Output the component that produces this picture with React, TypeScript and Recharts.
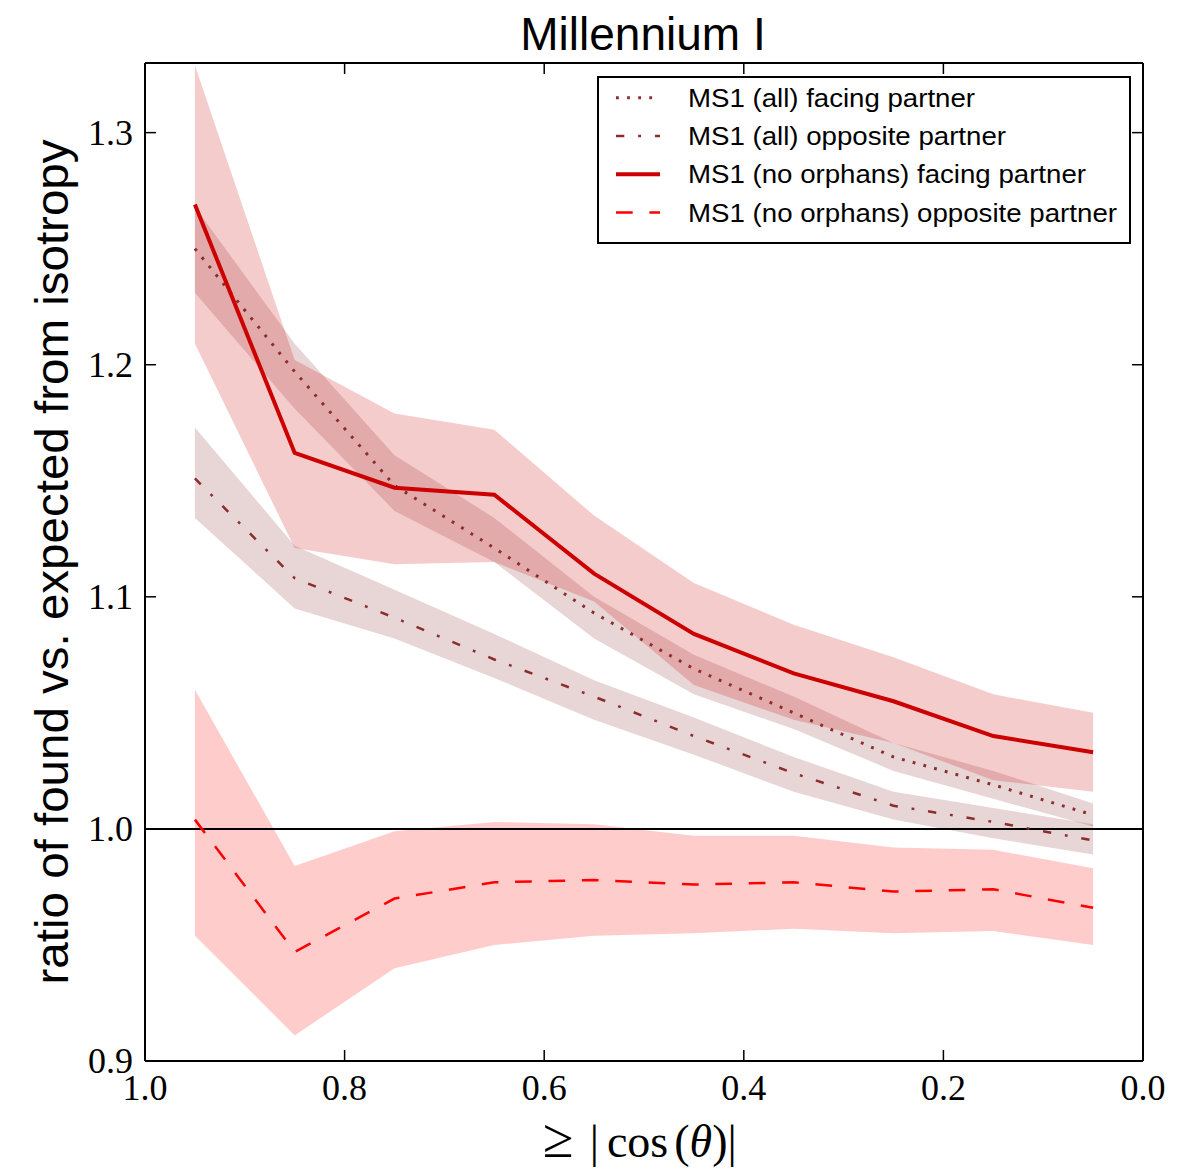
import React from 'react';
import { ComposedChart, Area, Line, XAxis, YAxis, ReferenceLine } from 'recharts';

// bin centres of |cos(theta)|
const cosBins = [0.95, 0.85, 0.75, 0.65, 0.55, 0.45, 0.35, 0.25, 0.15, 0.05];

// MS1 (all) facing partner
const allFacing = [1.25, 1.197, 1.148, 1.121, 1.093, 1.069, 1.05, 1.031, 1.019, 1.006];
const allFacingLo = [1.231, 1.181, 1.137, 1.115, 1.082, 1.058, 1.043, 1.025, 1.013, 1.001];
const allFacingHi = [1.268, 1.209, 1.161, 1.134, 1.1, 1.075, 1.057, 1.037, 1.025, 1.011];

// MS1 (all) opposite partner
const allOpposite = [1.151, 1.108, 1.091, 1.073, 1.057, 1.04, 1.024, 1.01, 1.003, 0.995];
const allOppositeLo = [1.134, 1.095, 1.082, 1.065, 1.047, 1.032, 1.016, 1.004, 0.996, 0.989];
const allOppositeHi = [1.173, 1.122, 1.103, 1.084, 1.064, 1.048, 1.031, 1.016, 1.009, 1.002];

// MS1 (no orphans) facing partner
const noOrphFacing = [1.269, 1.162, 1.147, 1.144, 1.11, 1.084, 1.067, 1.055, 1.04, 1.033];
const noOrphFacingLo = [1.209, 1.121, 1.114, 1.115, 1.098, 1.062, 1.047, 1.037, 1.021, 1.016];
const noOrphFacingHi = [1.329, 1.202, 1.179, 1.172, 1.135, 1.106, 1.088, 1.074, 1.058, 1.05];

// MS1 (no orphans) opposite partner
const noOrphOpposite = [1.004, 0.947, 0.97, 0.977, 0.978, 0.976, 0.977, 0.973, 0.974, 0.966];
const noOrphOppositeLo = [0.954, 0.911, 0.94, 0.95, 0.954, 0.955, 0.957, 0.955, 0.956, 0.95];
const noOrphOppositeHi = [1.06, 0.984, 0.999, 1.003, 1.002, 0.997, 0.997, 0.992, 0.991, 0.983];

const xTicks = [0, 0.2, 0.4, 0.6, 0.8, 1.0];
const yTicks = [0.9, 1.0, 1.1, 1.2, 1.3];

const legendLabels = [
  'MS1 (all) facing partner',
  'MS1 (all) opposite partner',
  'MS1 (no orphans) facing partner',
  'MS1 (no orphans) opposite partner',
];
const legendTextWidths = [287, 318, 398, 429];

const brown = '#8c2d2d';
const darkRed = '#cc0000';
const red = '#ff0000';

const rows = cosBins.map((c, i) => ({
  c,
  allFacing: allFacing[i],
  allFacingBand: [allFacingLo[i], allFacingHi[i]],
  allOpposite: allOpposite[i],
  allOppositeBand: [allOppositeLo[i], allOppositeHi[i]],
  noOrphFacing: noOrphFacing[i],
  noOrphFacingBand: [noOrphFacingLo[i], noOrphFacingHi[i]],
  noOrphOpposite: noOrphOpposite[i],
  noOrphOppositeBand: [noOrphOppositeLo[i], noOrphOppositeHi[i]],
}));

const W = 1187;
const H = 1162;
const M = { top: 54, left: 136, right: 51, bottom: 108 };
// plot box height (axes take 1px each)
const plotH = H - M.top - M.bottom - 2;
const sans = '"Liberation Sans", Arial, sans-serif';
const serif = '"Liberation Serif", "Times New Roman", serif';
const tickLen = 11;

// bottom tick: label + inward tick, plus the mirrored tick on the top spine
const BottomTick = (p: any) => (
  <g>
    <line x1={p.x} y1={p.y} x2={p.x} y2={p.y - tickLen} stroke="#000" strokeWidth={1.5} />
    <line x1={p.x} y1={p.y - plotH} x2={p.x} y2={p.y - plotH + tickLen} stroke="#000" strokeWidth={1.5} />
    <text x={p.x} y={p.y + 39} textAnchor="middle" fontFamily={serif} fontSize={36} fill="#000">
      {Number(p.payload.value).toFixed(1)}
    </text>
  </g>
);

const LeftTick = (p: any) => (
  <g>
    <line x1={p.x} y1={p.y} x2={p.x + tickLen} y2={p.y} stroke="#000" strokeWidth={1.5} />
    <text x={p.x - 12} y={p.y + 12} textAnchor="end" fontFamily={serif} fontSize={36} fill="#000">
      {Number(p.payload.value).toFixed(1)}
    </text>
  </g>
);

const RightTick = (p: any) => (
  <line x1={p.x} y1={p.y} x2={p.x - tickLen} y2={p.y} stroke="#000" strokeWidth={1.5} />
);

const legendStyles = [
  { stroke: brown, width: 3, dash: '2.8 8.3' },
  { stroke: brown, width: 2.5, dash: '8.3 13.9 2.8 13.9' },
  { stroke: darkRed, width: 4, dash: undefined },
  { stroke: red, width: 2.5, dash: '16.7 16.7' },
];

const Overlay = () => (
  <svg width={W} height={H} style={{ position: 'absolute', left: 0, top: 0, pointerEvents: 'none' }}>
    <text x={635} y={42} textAnchor="middle" fontFamily={sans} fontSize={46} fill="#000">
      Millennium I
    </text>
    <text
      transform="translate(60,554) rotate(-90)"
      x={0}
      y={0}
      textAnchor="middle"
      fontFamily={sans}
      fontSize={47}
      textLength={845}
      lengthAdjust="spacingAndGlyphs"
      fill="#000"
    >
      ratio of found vs.  expected from isotropy
    </text>
    <text x={535} y={1149} fontFamily={serif} fontSize={46} fill="#000">
      <tspan fontSize={56}>≥</tspan>
      <tspan dx={16}>|</tspan>
      <tspan dx={8}>cos</tspan>
      <tspan dx={6}>(</tspan>
      <tspan fontStyle="italic">θ</tspan>
      <tspan>)|</tspan>
    </text>
    <g>
      <rect x={590} y={69} width={532} height={166} fill="#fff" stroke="#000" strokeWidth={2} />
      {legendLabels.map((label, i) => {
        const base = 98.7 + i * 38.3;
        const s = legendStyles[i];
        return (
          <g key={label}>
            <line
              x1={608}
              x2={652}
              y1={base - 9}
              y2={base - 9}
              stroke={s.stroke}
              strokeWidth={s.width}
              strokeDasharray={s.dash}
            />
            <text
              x={680}
              y={base}
              fontFamily={sans}
              fontSize={26}
              textLength={legendTextWidths[i]}
              lengthAdjust="spacingAndGlyphs"
              fill="#000"
            >
              {label}
            </text>
          </g>
        );
      })}
    </g>
  </svg>
);

const App = () => {
  return (
    <div style={{ position: 'relative', width: W, height: H }}>
      <ComposedChart width={W} height={H} data={rows} margin={M}>
        <XAxis
          xAxisId="bottom"
          dataKey="c"
          type="number"
          domain={[0, 1]}
          reversed
          allowDataOverflow
          ticks={xTicks}
          interval={0}
          height={1}
          tickSize={0}
          tickMargin={0}
          tickLine={false}
          axisLine={{ stroke: '#000', strokeWidth: 2 }}
          tick={BottomTick}
        />
        <XAxis
          xAxisId="top"
          dataKey="c"
          orientation="top"
          type="number"
          domain={[0, 1]}
          reversed
          allowDataOverflow
          height={1}
          tickLine={false}
          tick={false}
          axisLine={{ stroke: '#000', strokeWidth: 2 }}
        />
        <YAxis
          yAxisId="left"
          type="number"
          domain={[0.9, 1.33]}
          allowDataOverflow
          ticks={yTicks}
          interval={0}
          width={1}
          tickSize={0}
          tickMargin={0}
          tickLine={false}
          axisLine={{ stroke: '#000', strokeWidth: 2 }}
          tick={LeftTick}
        />
        <YAxis
          yAxisId="right"
          orientation="right"
          type="number"
          domain={[0.9, 1.33]}
          allowDataOverflow
          ticks={yTicks}
          interval={0}
          width={1}
          tickSize={0}
          tickMargin={0}
          tickLine={false}
          axisLine={{ stroke: '#000', strokeWidth: 2 }}
          tick={RightTick}
        />

        <Area xAxisId="bottom" yAxisId="left" type="linear" dataKey="allFacingBand" stroke="none" fill={brown} fillOpacity={0.2} isAnimationActive={false} />
        <Area xAxisId="bottom" yAxisId="left" type="linear" dataKey="allOppositeBand" stroke="none" fill={brown} fillOpacity={0.2} isAnimationActive={false} />
        <Area xAxisId="bottom" yAxisId="left" type="linear" dataKey="noOrphFacingBand" stroke="none" fill={darkRed} fillOpacity={0.2} isAnimationActive={false} />
        <Area xAxisId="bottom" yAxisId="left" type="linear" dataKey="noOrphOppositeBand" stroke="none" fill={red} fillOpacity={0.2} isAnimationActive={false} />

        <ReferenceLine xAxisId="bottom" yAxisId="left" y={1} stroke="#000" strokeWidth={2} />

        <Line xAxisId="bottom" yAxisId="left" type="linear" dataKey="allFacing" stroke={brown} strokeWidth={3} strokeDasharray="2.8 8.3" dot={false} isAnimationActive={false} />
        <Line xAxisId="bottom" yAxisId="left" type="linear" dataKey="allOpposite" stroke={brown} strokeWidth={2.5} strokeDasharray="8.3 13.9 2.8 13.9" dot={false} isAnimationActive={false} />
        <Line xAxisId="bottom" yAxisId="left" type="linear" dataKey="noOrphFacing" stroke={darkRed} strokeWidth={4} dot={false} isAnimationActive={false} />
        <Line xAxisId="bottom" yAxisId="left" type="linear" dataKey="noOrphOpposite" stroke={red} strokeWidth={2.5} strokeDasharray="16.7 16.7" dot={false} isAnimationActive={false} />
      </ComposedChart>
      <Overlay />
    </div>
  );
};

export default App;
